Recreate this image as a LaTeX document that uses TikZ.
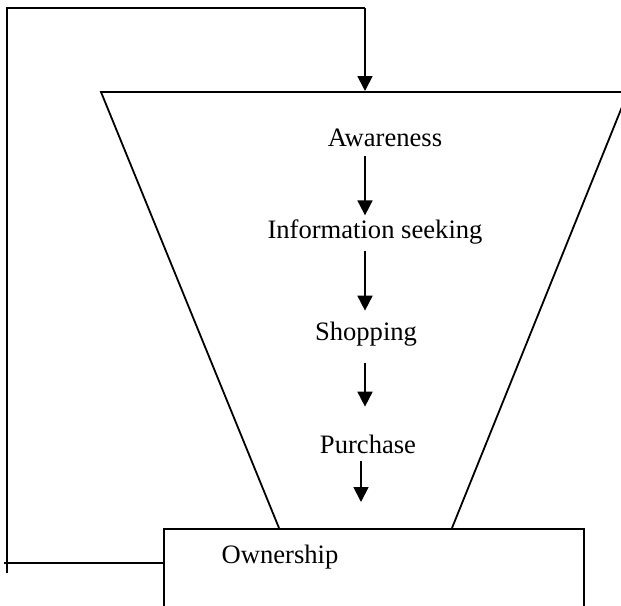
\documentclass[tikz,border=0pt]{standalone}
\usepackage{fontspec}
\setmainfont{Liberation Serif}
\usetikzlibrary{arrows.meta}
\begin{document}
\begin{tikzpicture}[x=1pt,y=-1pt,line width=1.8pt,
  lbl/.style={anchor=base,inner sep=0pt,font=\fontsize{26.6}{30}\selectfont},
  flow/.style={-{Triangle[length=15pt,width=15pt]},line width=1.8pt},
  boxst/.style={draw,line width=1.8pt,anchor=north west,minimum width=420pt,minimum height=120pt,inner sep=0pt}]
\useasboundingbox (0,0) rectangle (621,605);
\clip (0,0) rectangle (621,605);
% funnel
\coordinate (tTL) at (101,92);
\coordinate (tTR) at (628,92);
\coordinate (tBR) at (452,528);
\coordinate (tBL) at (279,528);
\draw[line join=miter] (tBL) -- (tTL) -- (tTR) -- (tBR);
% ownership box
\node[boxst] (own) at (163,528) {};
\node[lbl] (owntxt) at (280,563) {Ownership};
% stage labels
\node[lbl] (aw) at (385,146) {Awareness};
\node[lbl] (info) at (375,238) {Information seeking};
\node[lbl] (shop) at (366,340) {Shopping};
\node[lbl] (pur) at (368,453) {Purchase};
\coordinate (axis) at (365,0);
\coordinate (axisb) at (361,0);
% stage arrows
\draw[flow] ([yshift=-9pt]aw.south -| axis) -- ([yshift=3pt]info.north -| axis);
\draw[flow] ([yshift=-6pt]info.south -| axis) -- ([yshift=10pt]shop.north -| axis);
\draw[flow] ([yshift=-16pt]shop.south -| axis) -- ([yshift=27pt]pur.north -| axis);
\draw[flow] ([yshift=-7pt]pur.south -| axisb) -- ([yshift=26pt]own.north -| axisb);
% feedback loop
\coordinate (fbL) at (4,563);
\coordinate (fbB) at (7,573);
\coordinate (fbT) at (7,8);
\coordinate (fbR) at (365,8);
\draw (own.west |- fbL) -- (fbL);
\draw[line join=miter] (fbB) -- (fbT) -- (fbR);
\draw[flow] (fbR) -- ([yshift=1pt]fbR |- tTL);
\end{tikzpicture}
\end{document}
